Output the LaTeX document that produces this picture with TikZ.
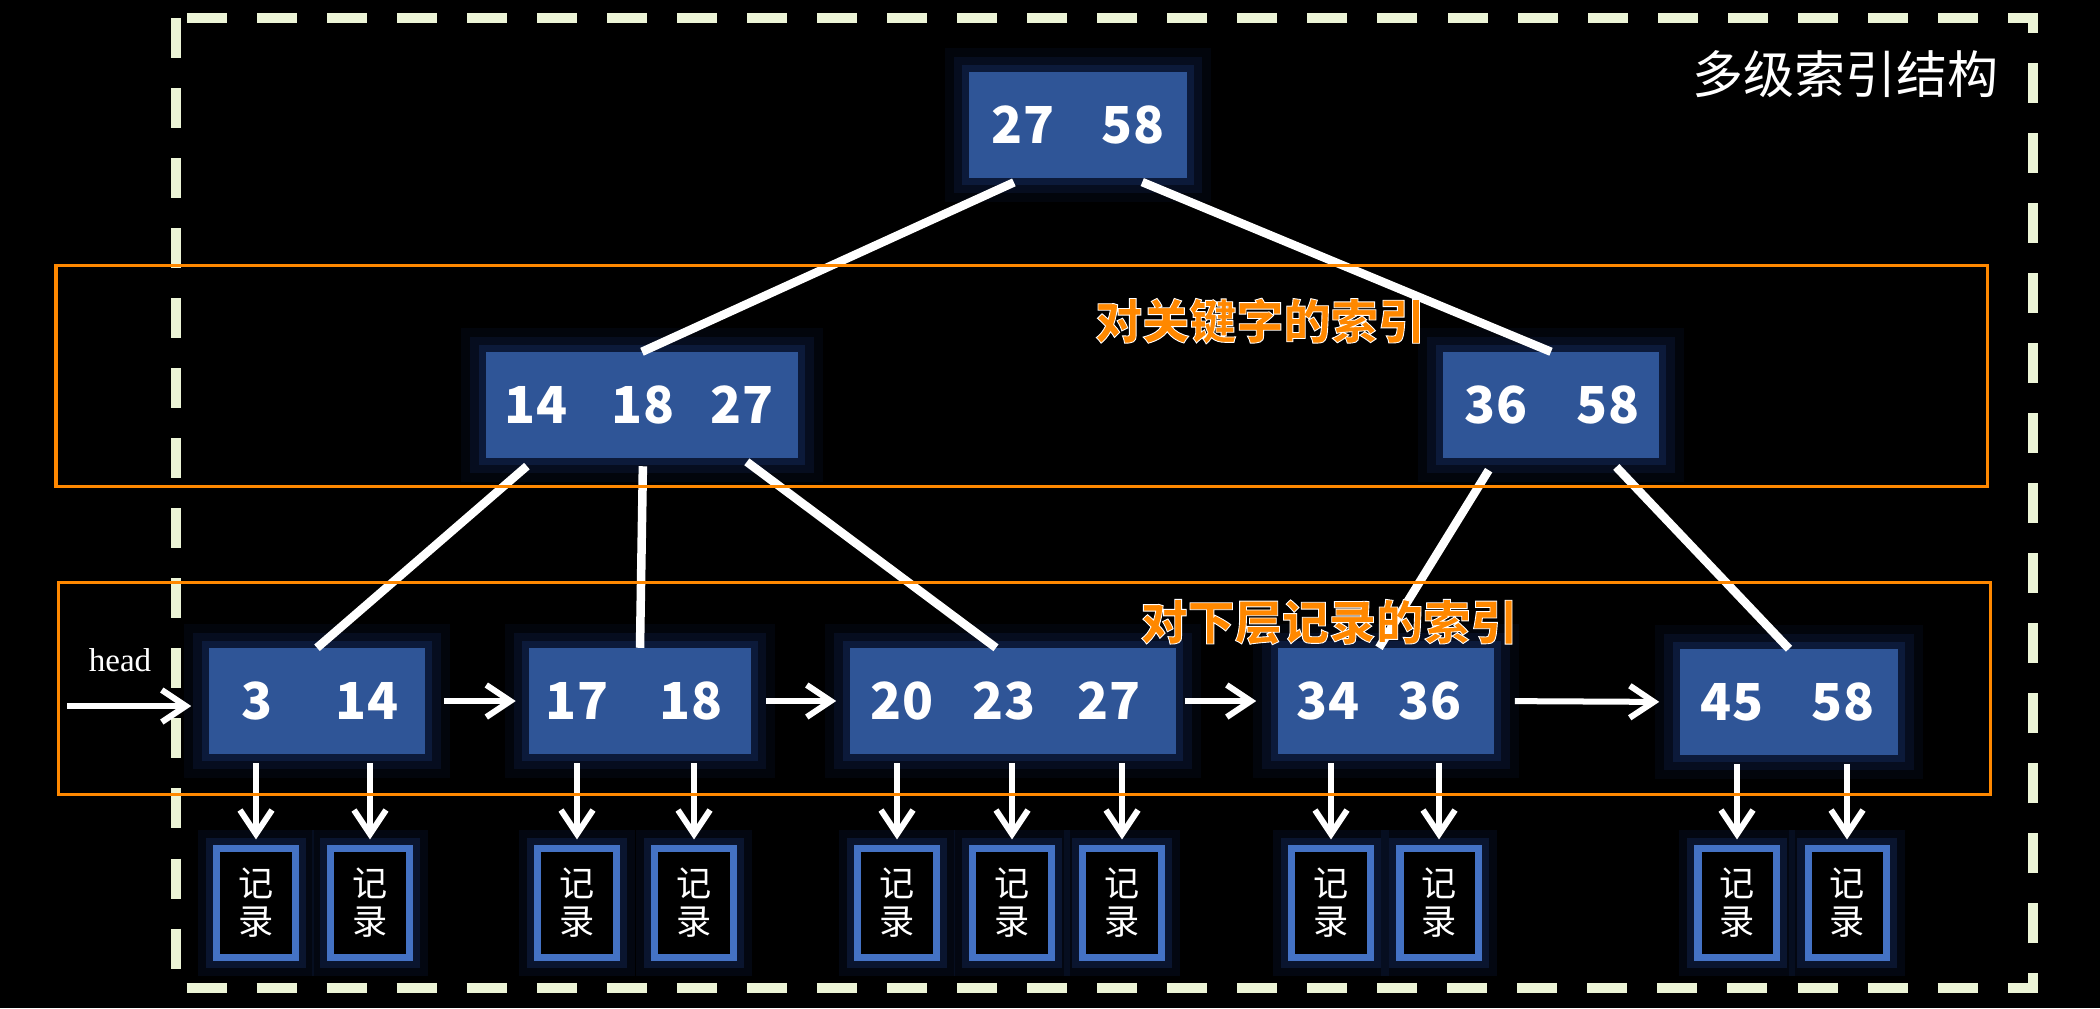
\documentclass[tikz,border=0pt]{standalone}
\usepackage{fontspec}
\setmainfont{Noto Sans CJK SC}
\newfontfamily\headfont{Liberation Serif}
\usetikzlibrary{arrows.meta}

\definecolor{keyblue}{RGB}{47,85,151}
\definecolor{glowblue}{RGB}{38,78,170}
\definecolor{recblue}{RGB}{68,114,196}
\definecolor{framecol}{RGB}{236,244,214}
\definecolor{markorange}{RGB}{255,136,0}

\tikzset{
  keybox/.style={fill=keyblue, minimum height=1.05cm, inner sep=0pt,
    preaction={draw=glowblue, opacity=0.07, line width=14pt},
    preaction={draw=glowblue, opacity=0.12, line width=9pt},
    preaction={draw=glowblue, opacity=0.2, line width=4pt}},
  keytext/.style={text=white, inner sep=0pt, font=\bfseries\fontsize{14.5}{16}\selectfont},
  recbox/.style={draw=recblue, line width=0.07cm, fill=black, inner sep=0pt,
    minimum width=0.78cm, minimum height=1.08cm, align=center, text=white,
    font=\fontsize{10}{10.8}\selectfont,
    preaction={draw=glowblue, opacity=0.1, line width=11pt},
    preaction={draw=glowblue, opacity=0.2, line width=6pt}},
  treeline/.style={white, line width=0.085cm},
  nextarrow/.style={white, line width=0.06cm, -{Straight Barb[length=0.24cm,width=0.32cm]}},
  band/.style={draw=markorange, line width=0.03cm},
  bandlabel/.style={text=markorange, inner sep=0pt, font=\bfseries\fontsize{13.4}{15}\selectfont}
}
\newcommand{\outlined}[1]{\special{pdf:literal direct 1 1 1 RG 0.25 w 2 Tr}#1\special{pdf:literal direct 0 Tr}}

\begin{document}
\begin{tikzpicture}[x=0.01cm, y=-0.01cm]
  \fill[black] (0,0) rectangle (2100,1008);
  \useasboundingbox (0,0) rectangle (2100,1008);

  % outer frame
  \draw[framecol, line width=0.1cm, dash pattern=on 0.4cm off 0.3cm] (176,18) rectangle (2033,988);
  \node[text=white, inner sep=0pt, font=\fontsize{14.5}{16}\selectfont] (title) at (1845,74) {多级索引结构};

  % index nodes
  \node[keybox, minimum width=2.17cm] (root) at (1078,125) {};
  \node[keytext] (root27) at (1023,125) {27};
  \node[keytext] (root58) at (1133,125) {58};

  \node[keybox, minimum width=3.12cm] (ml) at (642,405) {};
  \node[keytext] (ml14) at (536,405) {14};
  \node[keytext] (ml18) at (643,405) {18};
  \node[keytext] (ml27) at (742,405) {27};

  \node[keybox, minimum width=2.16cm] (mr) at (1551,405) {};
  \node[keytext] (mr36) at (1496,405) {36};
  \node[keytext] (mr58) at (1608,405) {58};

  % leaf nodes
  \node[keybox, minimum width=2.16cm] (l1) at (317,701) {};
  \node[keytext] (l1k3) at (257,701) {3};
  \node[keytext] (l1k14) at (367,701) {14};

  \node[keybox, minimum width=2.21cm] (l2) at (640,701) {};
  \node[keytext] (l2k17) at (577,701) {17};
  \node[keytext] (l2k18) at (691,701) {18};

  \node[keybox, minimum width=3.26cm] (l3) at (1013,701) {};
  \node[keytext] (l3k20) at (902,701) {20};
  \node[keytext] (l3k23) at (1004,701) {23};
  \node[keytext] (l3k27) at (1109,701) {27};

  \node[keybox, minimum width=2.16cm] (l4) at (1386,701) {};
  \node[keytext] (l4k34) at (1328,701) {34};
  \node[keytext] (l4k36) at (1430,701) {36};

  \node[keybox, minimum width=2.18cm] (l5) at (1789,702) {};
  \node[keytext] (l5k45) at (1732,702) {45};
  \node[keytext] (l5k58) at (1843,702) {58};

  % tree edges
  \draw[treeline, shorten <=0.1cm] (root27 |- root.south) -- (ml.north);
  \draw[treeline, shorten <=0.1cm] (root58 |- root.south) -- (mr.north);
  \draw[treeline, shorten <=0.12cm] (ml14 |- ml.south) -- (l1.north);
  \draw[treeline, shorten <=0.08cm] (ml18 |- ml.south) -- (l2.north);
  \draw[treeline, shorten <=0.06cm] (ml27 |- ml.south) -- ([xshift=-0.17cm]l3.north);
  \draw[treeline, shorten <=0.14cm] (mr36 |- mr.south) -- ([xshift=-0.07cm]l4.north);
  \draw[treeline, shorten <=0.12cm] (mr58 |- mr.south) -- (l5.north);

  % records
  \node[recbox] (rc1) at (256,903) {记\\录};
  \node[recbox] (rc2) at (370,903) {记\\录};
  \node[recbox] (rc3) at (577,903) {记\\录};
  \node[recbox] (rc4) at (694,903) {记\\录};
  \node[recbox] (rc5) at (897,903) {记\\录};
  \node[recbox] (rc6) at (1012,903) {记\\录};
  \node[recbox] (rc7) at (1122,903) {记\\录};
  \node[recbox] (rc8) at (1331,903) {记\\录};
  \node[recbox] (rc9) at (1439,903) {记\\录};
  \node[recbox] (rc10) at (1737,903) {记\\录};
  \node[recbox] (rc11) at (1847,903) {记\\录};

  \foreach \r/\l in {rc1/l1, rc2/l1, rc3/l2, rc4/l2, rc5/l3, rc6/l3, rc7/l3, rc8/l4, rc9/l4, rc10/l5, rc11/l5}
    \draw[nextarrow, shorten <=0.09cm, shorten >=0.06cm] (\r.north |- \l.south) -- (\r.north);

  % linked list
  \coordinate (headstart) at (67,706);
  \node[text=white, inner sep=0pt, font=\headfont\fontsize{9.4}{11}\selectfont] (headlabel) at (120,660) {head};
  \draw[nextarrow, shorten >=0.17cm] (headstart) -- (headstart -| l1.west);
  \draw[nextarrow, shorten <=0.18cm, shorten >=0.13cm] (l1.east) -- (l2.west);
  \draw[nextarrow, shorten <=0.15cm, shorten >=0.13cm] (l2.east) -- (l3.west);
  \draw[nextarrow, shorten <=0.08cm, shorten >=0.21cm] (l3.east) -- (l4.west);
  \draw[nextarrow, shorten <=0.2cm, shorten >=0.2cm] (l4.east) -- (l5.west);

  % levels
  \draw[band] (56,265) rectangle (1987,486);
  \draw[band] (58,582) rectangle (1990,794);
  \node[bandlabel] (keyindex) at (1260,321) {\outlined{对关键字的索引}};
  \node[bandlabel] (recindex) at (1329,622) {\outlined{对下层记录的索引}};
\end{tikzpicture}
\end{document}
